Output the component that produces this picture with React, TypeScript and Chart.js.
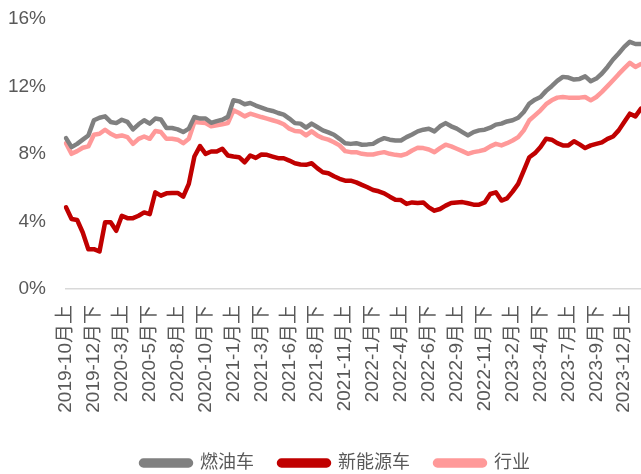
import React, { useEffect, useRef } from "react";
import { Chart, registerables } from "chart.js";

Chart.register(...registerables);

// Half-month periods from 2019-10上 to 2024-1下
const startYear = 2019;
const startMonth = 10;
const periodCount = 104;
const categories: string[] = [];
for (let i = 0; i < periodCount; i++) {
  const m0 = startMonth - 1 + Math.floor(i / 2);
  const y = startYear + Math.floor(m0 / 12);
  const m = (m0 % 12) + 1;
  categories.push(`${y}-${m}月${i % 2 === 0 ? "上" : "下"}`);
}

const yTickValues = [0, 4, 8, 12, 16];
const seriesNames = ["燃油车", "新能源车", "行业"];

const fuelCars = [
  8.94, 8.41, 8.6, 8.85, 9.1, 10.0, 10.15, 10.23, 9.9, 9.83,
  10.03, 9.9, 9.46, 9.76, 10.0, 9.8, 10.1, 10.05, 9.54, 9.54,
  9.46, 9.3, 9.5, 10.19, 10.1, 10.1, 9.85, 9.95, 10.03, 10.2,
  11.18, 11.12, 10.95, 11.02, 10.87, 10.75, 10.63, 10.55, 10.43, 10.33,
  10.1, 9.83, 9.8, 9.56, 9.8, 9.6, 9.4, 9.28, 9.14, 8.9,
  8.64, 8.6, 8.64, 8.55, 8.57, 8.6, 8.8, 8.94, 8.85, 8.8,
  8.8, 9.0, 9.16, 9.34, 9.44, 9.5, 9.34, 9.64, 9.83, 9.64,
  9.5, 9.3, 9.1, 9.3, 9.4, 9.44, 9.56, 9.74, 9.8, 9.93,
  10.0, 10.15, 10.49, 10.99, 11.22, 11.38, 11.74, 12.02, 12.33, 12.57,
  12.53, 12.41, 12.45, 12.6, 12.31, 12.47, 12.77, 13.16, 13.6, 13.96,
  14.35, 14.65, 14.52, 14.52,
];

const newEnergy = [
  4.84, 4.15, 4.09, 3.35, 2.36, 2.36, 2.22, 3.95, 3.95, 3.45,
  4.34, 4.2, 4.2, 4.34, 4.54, 4.44, 5.73, 5.53, 5.67, 5.69,
  5.69, 5.47, 6.23, 7.85, 8.47, 8.01, 8.15, 8.15, 8.31, 7.91,
  7.85, 7.81, 7.51, 7.91, 7.77, 7.97, 7.95, 7.85, 7.75, 7.75,
  7.61, 7.45, 7.38, 7.36, 7.45, 7.16, 6.92, 6.86, 6.68, 6.53,
  6.42, 6.42, 6.32, 6.17, 6.03, 5.87, 5.79, 5.67, 5.47, 5.29,
  5.27, 5.04, 5.13, 5.1, 5.13, 4.84, 4.64, 4.74, 4.94, 5.1,
  5.13, 5.15, 5.08, 5.0, 5.0, 5.13, 5.63, 5.73, 5.24, 5.37,
  5.77, 6.23, 7.02, 7.81, 8.05, 8.41, 8.9, 8.85, 8.64, 8.51,
  8.51, 8.76, 8.57, 8.35, 8.51, 8.6, 8.69, 8.9, 9.04, 9.4,
  9.9, 10.39, 10.23, 10.69,
];

const industry = [
  8.64, 8.01, 8.17, 8.37, 8.45, 9.14, 9.2, 9.44, 9.2, 9.04,
  9.1, 9.0, 8.6, 8.9, 9.04, 8.9, 9.36, 9.3, 8.9, 8.9,
  8.85, 8.64, 8.9, 9.9, 9.86, 9.83, 9.64, 9.7, 9.76, 9.83,
  10.59, 10.43, 10.23, 10.39, 10.29, 10.19, 10.1, 10.0, 9.9, 9.76,
  9.5, 9.36, 9.34, 9.1, 9.34, 9.1, 8.94, 8.85, 8.7, 8.51,
  8.17, 8.11, 8.11, 8.01, 7.97, 7.97, 8.05, 8.11, 8.01, 7.95,
  7.91, 8.01, 8.21, 8.37, 8.35, 8.27, 8.11, 8.35, 8.55, 8.45,
  8.31, 8.17, 8.01, 8.11, 8.17, 8.25, 8.45, 8.6, 8.51, 8.64,
  8.8, 9.0, 9.4, 10.0, 10.29, 10.59, 10.95, 11.18, 11.34, 11.38,
  11.34, 11.34, 11.34, 11.38, 11.18, 11.38, 11.68, 12.02, 12.37, 12.73,
  13.07, 13.4, 13.16, 13.33,
];

const seriesColors = ["#808080", "#C00000", "#FF9999"];
const FONT = "'Liberation Sans', Arial, 'Noto Sans CJK SC', sans-serif";
const TEXT = "#595959";

const legendShift = {
  id: "legendShift",
  afterLayout(chart: any) {
    const lg = chart.legend;
    if (lg) {
      lg.left += 15;
      lg.right += 15;
    }
  },
};

export default function App() {
  const canvasRef = useRef<HTMLCanvasElement | null>(null);

  useEffect(() => {
    document.body.style.margin = "0";
    const canvas = canvasRef.current;
    if (!canvas) return;
    const values = [fuelCars, newEnergy, industry];
    const chart = new Chart(canvas, {
      type: "line",
      data: {
        labels: categories,
        datasets: seriesNames.map((name, k) => ({
          label: name,
          data: values[k],
          borderColor: seriesColors[k],
          backgroundColor: seriesColors[k],
          borderWidth: 4.5,
          pointRadius: 0,
          pointHoverRadius: 0,
          tension: 0,
          borderJoinStyle: "round" as const,
          borderCapStyle: "round" as const,
          fill: false,
        })),
      },
      plugins: [legendShift],
      options: {
        responsive: false,
        animation: false,
        layout: { padding: { top: 19, left: 0, right: 0, bottom: -8 } },
        plugins: {
          tooltip: { enabled: false },
          legend: {
            position: "bottom",
            labels: {
              boxWidth: 50,
              boxHeight: 5,
              useBorderRadius: true,
              borderRadius: 2.5,
              padding: 25,
              color: TEXT,
              font: { size: 18, family: FONT },
            },
          },
        },
        scales: {
          x: {
            type: "category",
            offset: false,
            grid: { display: false, drawTicks: false },
            border: { display: true, color: "#D9D9D9", width: 1.5 },
            ticks: {
              autoSkip: false,
              maxRotation: 90,
              minRotation: 90,
              padding: 16,
              color: TEXT,
              font: { size: 19, family: FONT },
              callback: (_v: any, i: number) => (i % 5 === 0 ? categories[i] : null),
            },
            afterFit: (axis: any) => {
              axis.height = 140;
              axis.paddingRight = 0;
              axis.paddingLeft = 0;
            },
          },
          y: {
            min: 0,
            max: 16,
            grid: { display: false, drawTicks: false },
            border: { display: false },
            afterBuildTicks: (axis: any) => {
              axis.ticks = yTickValues.map((v) => ({ value: v }));
            },
            ticks: {
              padding: 20,
              color: TEXT,
              font: { size: 19, family: FONT },
              callback: (v: any) => `${v}%`,
            },
            afterFit: (axis: any) => {
              axis.width = 66;
              axis.paddingTop = 0;
              axis.paddingBottom = 0;
            },
          },
        },
      },
    });
    return () => chart.destroy();
  }, []);

  return (
    <canvas
      ref={canvasRef}
      width={641}
      height={474}
      style={{ display: "block", width: 641, height: 474 }}
    />
  );
}
